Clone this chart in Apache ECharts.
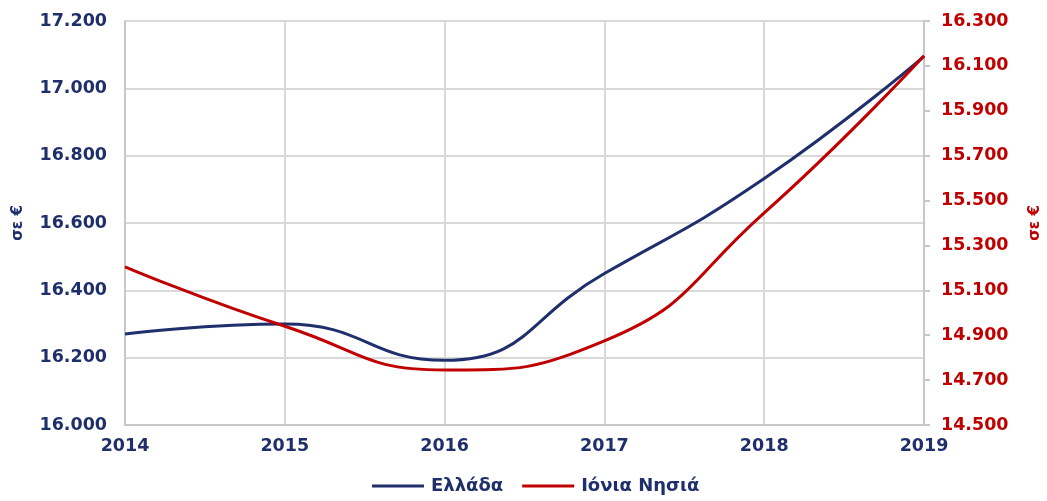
<!DOCTYPE html>
<html><head><meta charset="utf-8">
<script src="https://cdn.jsdelivr.net/npm/echarts@6/dist/echarts.min.js"></script>
<style>html,body{margin:0;padding:0;background:#fff}#c{width:1047px;height:501px}</style>
</head><body><div id="c"></div>
<script>
const years = ['2014','2015','2016','2017','2018','2019'];
const greece = [16270, 16300, 16192, 16450, 16732, 17095];
const ionian = [15205, 14940, 14745, 14875, 15445, 16145];
const seriesNames = ['Ελλάδα', 'Ιόνια Νησιά'];
const navy = '#1F2F6B', red = '#C00000';
const font = 'DejaVu Sans';
const fmt = v => v.toFixed(0).replace(/\B(?=(\d{3})+(?!\d))/g, '.');
const chart = echarts.init(document.getElementById('c'));
chart.setOption({
  animation: false,
  textStyle: {fontFamily: font},
  grid: {left: 125, right: 123, top: 21, bottom: 76, containLabel: false, outerBoundsMode: 'none'},
  legend: {
    bottom: 1, left: 367, itemWidth: 52, itemHeight: 3, itemGap: 19,
    icon: 'rect',
    textStyle: {fontFamily: font, fontWeight: 'bold', fontSize: 18, color: navy, padding: [0, 0, 0, 2]},
    data: seriesNames
  },
  xAxis: {
    type: 'category', data: years, boundaryGap: false,
    axisLine: {lineStyle: {color: '#C8C8C8', width: 2}},
    axisTick: {show: false},
    splitLine: {show: true, lineStyle: {color: '#D9D9D9', width: 2}},
    axisLabel: {color: navy, fontWeight: 'bold', fontSize: 17.5, margin: 12}
  },
  yAxis: [{
    type: 'value', min: 16000, max: 17200, interval: 200,
    name: 'σε €', nameLocation: 'middle', nameGap: 99, nameRotate: 90,
    nameTextStyle: {color: navy, fontWeight: 'bold', fontSize: 15},
    axisLine: {show: true, lineStyle: {color: '#C8C8C8', width: 2}},
    axisTick: {show: false},
    splitLine: {lineStyle: {color: '#D9D9D9', width: 2}},
    axisLabel: {color: navy, fontWeight: 'bold', fontSize: 17.5, margin: 18, formatter: fmt}
  }, {
    type: 'value', min: 14500, max: 16300, interval: 200, position: 'right',
    name: 'σε €', nameLocation: 'middle', nameGap: 104, nameRotate: 90,
    nameTextStyle: {color: red, fontWeight: 'bold', fontSize: 15},
    axisLine: {show: true, lineStyle: {color: '#C8C8C8', width: 2}},
    axisTick: {show: true, length: 6, lineStyle: {color: '#C8C8C8', width: 2}},
    splitLine: {show: false},
    axisLabel: {color: red, fontWeight: 'bold', fontSize: 17.5, margin: 17, formatter: fmt}
  }],
  series: [{
    name: seriesNames[0], type: 'line', data: greece, smooth: 0.5, yAxisIndex: 0,
    showSymbol: false, lineStyle: {color: navy, width: 3}, itemStyle: {color: navy}
  }, {
    name: seriesNames[1], type: 'line', data: ionian, smooth: 0.5, yAxisIndex: 1,
    showSymbol: false, lineStyle: {color: red, width: 3}, itemStyle: {color: red}
  }]
});
</script></body></html>
